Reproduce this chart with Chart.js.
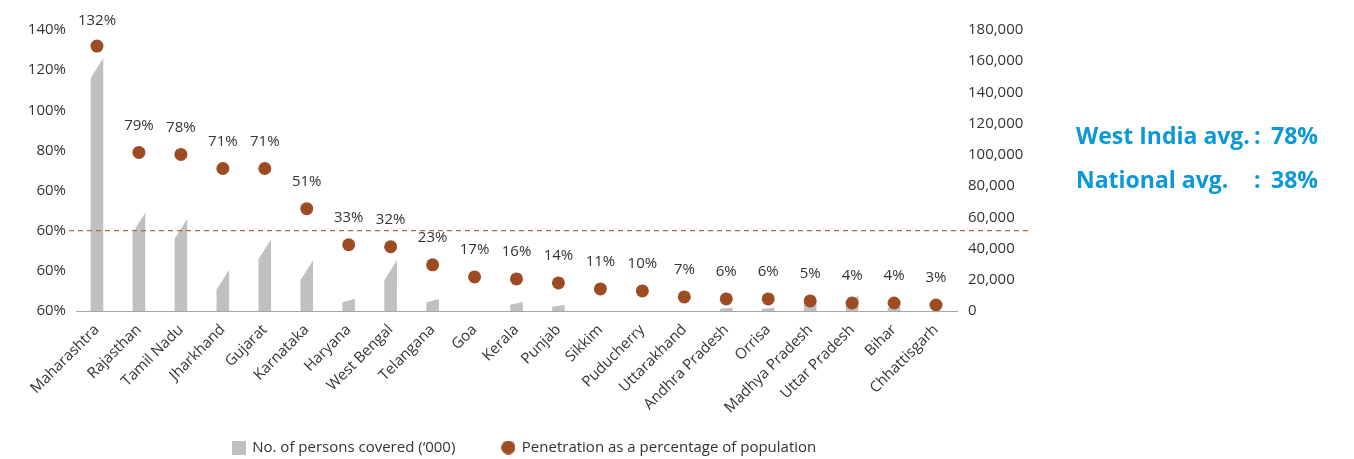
<!DOCTYPE html>
<html>
<head>
<meta charset="utf-8">
<script src="https://cdn.jsdelivr.net/npm/chart.js@4.4.1/dist/chart.umd.min.js"></script>
<style>
  html, body { margin: 0; padding: 0; background: #ffffff; }
  #wrap { position: relative; width: 1354px; height: 459px; }
  #wrap canvas { position: absolute; left: 0; top: 0; }
  .note { position: absolute; font-family: 'Open Sans', sans-serif; font-weight: 700; font-size: 23px; color: #0a98d8; white-space: nowrap; line-height: 1; }
</style>
</head>
<body>
<div id="wrap">
  <canvas id="c" width="1354" height="459"></canvas>
  <div class="note" style="left:1076px; top:124px;">West India avg.</div>
  <div class="note" style="left:1254px; top:124px;">:</div>
  <div class="note" style="left:1271px; top:124px;">78%</div>
  <div class="note" style="left:1076px; top:168px;">National avg.</div>
  <div class="note" style="left:1254px; top:168px;">:</div>
  <div class="note" style="left:1271px; top:168px;">38%</div>
</div>
<script>
// ---- Data ----
const categories = ["Maharashtra","Rajasthan","Tamil Nadu","Jharkhand","Gujarat","Karnataka","Haryana","West Bengal","Telangana","Goa","Kerala","Punjab","Sikkim","Puducherry","Uttarakhand","Andhra Pradesh","Orrisa","Madhya Pradesh","Uttar Pradesh","Bihar","Chhattisgarh"];
const personsCovered = [162000, 63000, 59000, 26500, 46000, 32500, 7900, 32500, 7700, 0, 5700, 3800, 0, 0, 0, 2100, 2100, 7500, 9800, 3000, 0];
const penetrationPct = [132, 79, 78, 71, 71, 51, 33, 32, 23, 17, 16, 14, 11, 10, 7, 6, 6, 5, 4, 4, 3];
const leftTickLabels = ["60%","60%","60%","60%","80%","100%","120%","140%"];
const nationalLineLevel = 40;
const seriesNames = ["No. of persons covered (\u2018000)", "Penetration as a percentage of population"];

const TEXT = '#333333';
const BAR = '#bfc0c2';
const DOT = '#9c4b22';
const FS = 15;

Chart.defaults.font.family = "'Open Sans', sans-serif";
Chart.defaults.font.size = FS;
Chart.defaults.color = TEXT;

function markerCanvas(kind, color) {
  const c = document.createElement('canvas');
  c.width = 14; c.height = 14;
  const g = c.getContext('2d');
  g.fillStyle = color;
  if (kind === 'rect') g.fillRect(0, 0, 14, 14);
  else { g.beginPath(); g.arc(7, 7, 7, 0, Math.PI * 2); g.fill(); }
  return c;
}
const legendMarkers = [markerCanvas('rect', BAR), markerCanvas('circle', DOT)];

const slantBars = {
  id: 'slantBars',
  beforeDatasetDraw(chart, args) {
    if (args.index !== 0) return;
    const ctx = chart.ctx;
    ctx.save();
    ctx.fillStyle = BAR;
    args.meta.data.forEach(el => {
      const p = el.getProps(['x','y','base','width'], true);
      const h = p.base - p.y;
      if (h <= 0.5) return;
      const s = Math.min(20, h * 0.3 + Math.max(0, h - 12) * 0.6);
      const l = p.x - p.width / 2, r = p.x + p.width / 2;
      ctx.beginPath();
      ctx.moveTo(l, p.base);
      ctx.lineTo(l, p.y + s);
      ctx.lineTo(r, p.y);
      ctx.lineTo(r, p.base);
      ctx.closePath();
      ctx.fill();
    });
    // dashed reference line
    const y = chart.scales.y.getPixelForValue(nationalLineLevel);
    const a = chart.chartArea;
    ctx.strokeStyle = '#b5693f';
    ctx.lineWidth = 1.2;
    ctx.setLineDash([5, 4]);
    ctx.beginPath();
    ctx.moveTo(a.left - 7, y);
    ctx.lineTo(a.right + 72, y);
    ctx.stroke();
    ctx.restore();
    return false;
  }
};

const pointLabels = {
  id: 'pointLabels',
  afterDatasetsDraw(chart) {
    const meta = chart.getDatasetMeta(1);
    const ctx = chart.ctx;
    ctx.save();
    ctx.fillStyle = TEXT;
    ctx.font = FS + "px 'Open Sans', sans-serif";
    ctx.textAlign = 'center';
    ctx.textBaseline = 'middle';
    meta.data.forEach((el, i) => {
      ctx.fillText(penetrationPct[i] + '%', el.x, Math.max(el.y - 27, 21));
    });
    ctx.restore();
  }
};

new Chart(document.getElementById('c'), {
  data: {
    labels: categories,
    datasets: [
      {
        type: 'bar',
        label: seriesNames[0],
        data: personsCovered,
        yAxisID: 'y2',
        backgroundColor: BAR,
        borderWidth: 0,
        barPercentage: 0.3,
        categoryPercentage: 1,
        order: 2
      },
      {
        type: 'line',
        label: seriesNames[1],
        data: penetrationPct,
        yAxisID: 'y',
        showLine: false,
        pointRadius: 6.5,
        pointHoverRadius: 6.5,
        pointBackgroundColor: DOT,
        pointBorderColor: DOT,
        pointBorderWidth: 0,
        backgroundColor: DOT,
        borderColor: DOT,
        pointStyle: 'circle',
        order: 1
      }
    ]
  },
  options: {
    responsive: false,
    animation: false,
    layout: { padding: { left: 0, right: 305, top: 30, bottom: -6 } },
    plugins: {
      legend: {
        position: 'bottom',
        labels: {
          usePointStyle: true, pointStyleWidth: 12, padding: 47, color: TEXT, font: { size: FS },
          sort: (a, b) => a.datasetIndex - b.datasetIndex,
          generateLabels(chart) {
            const items = Chart.defaults.plugins.legend.labels.generateLabels(chart);
            items.forEach(it => { it.pointStyle = legendMarkers[it.datasetIndex]; });
            return items;
          }
        }
      },
      tooltip: { enabled: false }
    },
    scales: {
      x: {
        type: 'category',
        offset: true,
        grid: { display: false, drawTicks: false },
        border: { display: true, color: '#a6a6a6', width: 1 },
        ticks: { maxRotation: 45, minRotation: 45, padding: 10, color: TEXT, font: { size: FS }, autoSkip: false },
        afterFit(s) {
          s.height = 82;
          // let the rotated category labels extend below the axis box without being clipped
          s._computeLabelArea = () => undefined;
        }
      },
      y: {
        position: 'left',
        min: 0, max: 140,
        grid: { display: false, drawTicks: false },
        border: { display: false },
        ticks: { stepSize: 20, padding: 10, color: TEXT, font: { size: FS },
          callback: (v, i) => leftTickLabels[i] },
        afterFit(s) { s.width = 76; }
      },
      y2: {
        position: 'right',
        min: 0, max: 180000,
        grid: { display: false, drawTicks: false },
        border: { display: false },
        ticks: { stepSize: 20000, padding: 11, color: TEXT, font: { size: FS },
          callback: v => v.toLocaleString('en-US') },
        afterFit(s) { s.width = 92; }
      }
    }
  },
  plugins: [slantBars, pointLabels]
});
</script>
</body>
</html>
